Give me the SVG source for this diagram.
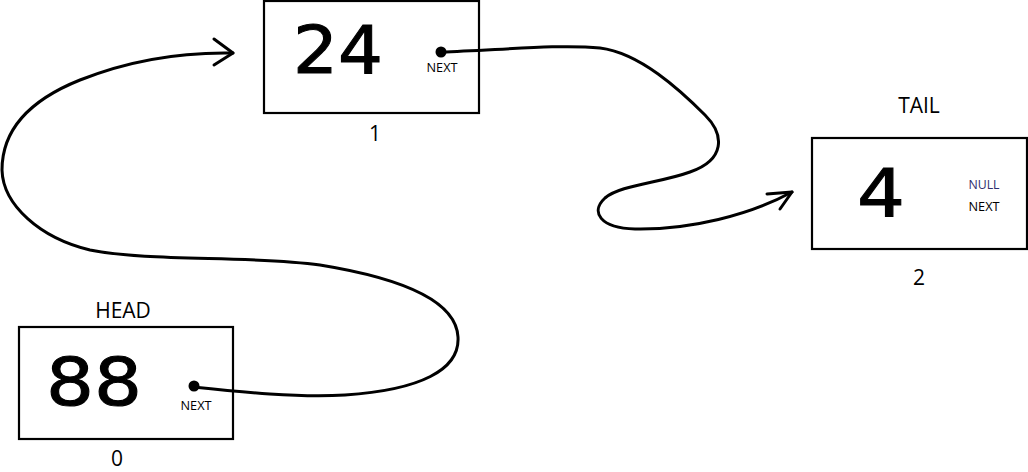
<svg xmlns="http://www.w3.org/2000/svg" width="1028" height="472" viewBox="0 0 1028 472">
<style>
.box{fill:#fff;stroke:#000;stroke-width:2.2}
.val{font-family:"DejaVu Sans",sans-serif;font-size:66px;fill:#000;text-anchor:middle;stroke:#000;stroke-width:1}
.lbl{font-family:"Open Sans",sans-serif;font-size:21px;fill:#000;text-anchor:middle}
.nx{font-family:"Open Sans",sans-serif;font-size:13px;fill:#000;text-anchor:middle}
.dot{fill:#000}
.wire{fill:none;stroke:#000;stroke-width:3;stroke-linecap:round;stroke-linejoin:round}
</style>
<rect width="1028" height="472" fill="#fff"/>
<g id="node-head">
<text class="lbl" x="123" y="318">HEAD</text>
<rect class="box" x="19" y="327" width="214" height="112"/>
<text class="val" x="94" y="405" textLength="96" lengthAdjust="spacingAndGlyphs">88</text>
<circle class="dot" cx="194" cy="386" r="5.5"/>
<text class="nx" x="196" y="410" textLength="31" lengthAdjust="spacingAndGlyphs">NEXT</text>
<text class="lbl" x="117" y="466">0</text>
</g>
<g id="node-1">
<rect class="box" x="264" y="1" width="215" height="112"/>
<text class="val" x="338" y="73" textLength="90" lengthAdjust="spacingAndGlyphs">24</text>
<circle class="dot" cx="441" cy="52" r="5.5"/>
<text class="nx" x="442" y="72" textLength="31" lengthAdjust="spacingAndGlyphs">NEXT</text>
<text class="lbl" x="375" y="141">1</text>
</g>
<g id="node-tail">
<text class="lbl" x="919" y="113">TAIL</text>
<rect class="box" x="812" y="138" width="215" height="111"/>
<text class="val" x="881" y="216" textLength="48" lengthAdjust="spacingAndGlyphs">4</text>
<text class="nx" x="984" y="189" style="fill:#2e2e6e" textLength="31" lengthAdjust="spacingAndGlyphs">NULL</text>
<text class="nx" x="984" y="211" textLength="31" lengthAdjust="spacingAndGlyphs">NEXT</text>
<text class="lbl" x="919" y="285">2</text>
</g>
<g id="connectors">
<path class="wire" d="M193,387 C240,392 300,398 345,395 C420,390 460,370 458,337 C456,300 400,278 320,265 C250,255 150,262 90,250 C40,238 3,205 2,170 C2,130 30,100 80,80 C130,60 180,52 233,53"/>
<polyline class="wire" points="214,39 233,53 214,65"/>
<path class="wire" d="M441,52 C500,50 560,44 600,48 C640,53 680,90 705,115 C725,135 725,160 690,172 C660,183 620,185 605,198 C590,212 600,228 635,229 C690,230 750,215 792,192"/>
<polyline class="wire" points="767,194 792,192 780,209"/>
</g>
</svg>
